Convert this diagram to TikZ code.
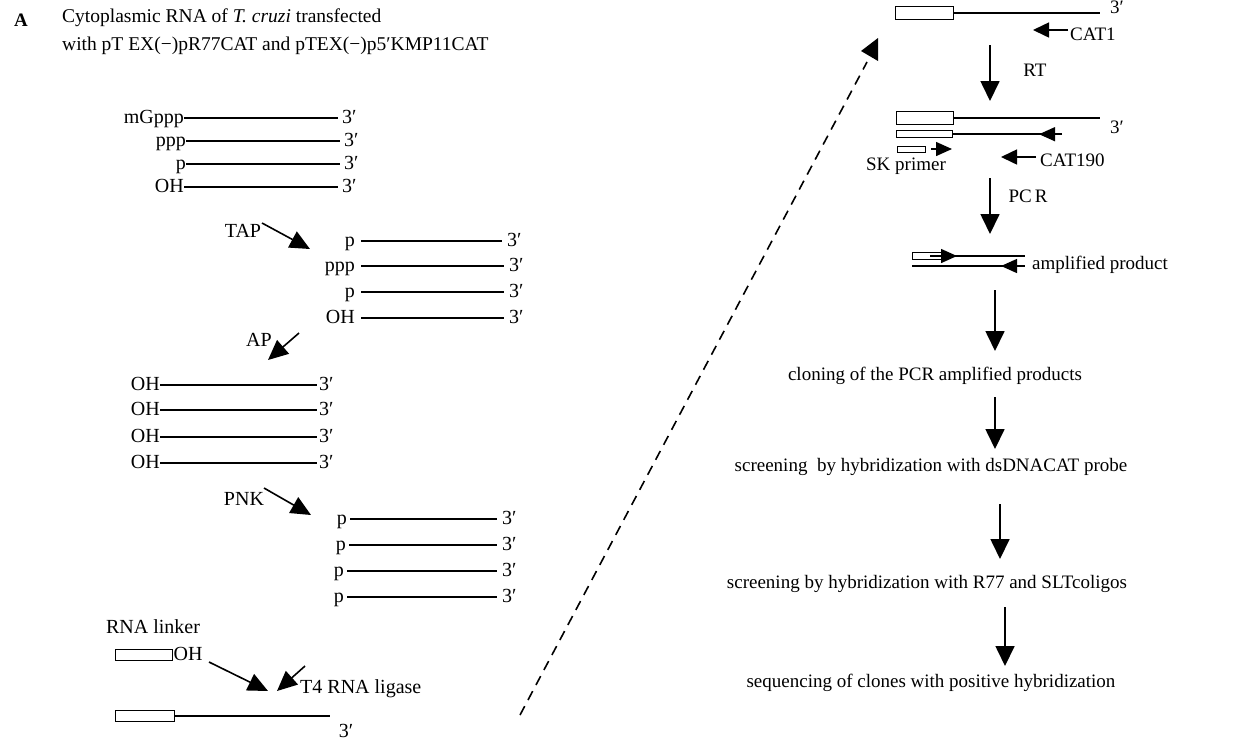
\documentclass[tikz,border=0pt]{standalone}
\usepackage{fontspec}
\setmainfont{Liberation Serif}
\usetikzlibrary{arrows.meta}
\begin{document}
\begin{tikzpicture}[x=1pt,y=-1pt,
  txt/.style={font=\fontsize{19}{23}\selectfont, inner sep=0pt, text height=13pt, text depth=4pt},
  ltxt/.style={font=\fontsize{20}{24}\selectfont, inner sep=0pt, text height=14pt, text depth=4pt},
  htxt/.style={font=\fontsize{19.5}{24}\selectfont, inner sep=0pt, text height=14pt, text depth=4pt, anchor=west},
  lbl/.style={ltxt, anchor=east},
  tp/.style={txt, anchor=west},
  ltp/.style={ltxt, anchor=west},
  strand/.style={line width=1.5pt},
  box/.style={draw, line width=1.4pt, fill=white, inner sep=0pt, anchor=north west},
  flow/.style={line width=1.7pt, -{Triangle[length=20pt,width=19pt]}},
  enz/.style={line width=1.6pt, -{Triangle[length=20pt,width=18pt]}},
  primer/.style={line width=1.6pt, -{Triangle[length=16pt,width=15pt]}},
  tip/.style={line width=1.4pt, -{Triangle[length=16pt,width=14pt]}},
]
\useasboundingbox (0,0) rectangle (1244,740);

% header
\node[ltxt, anchor=west, font=\fontsize{19}{22}\selectfont\bfseries] (hA) at (14,21) {A};
\node[htxt] (h1) at (62,17) {Cytoplasmic RNA of \textit{T. cruzi} transfected};
\node[htxt] (h2) at (62,45) {with pT EX(−)pR77CAT and pTEX(−)p5′KMP11CAT};

% block 1
\node[lbl] (a1) at (184,118) {mGppp};
\node[lbl] (a2) at (186,141) {ppp};
\node[lbl] (a3) at (186,164) {p};
\node[lbl] (a4) at (184,187) {OH};
\node[ltp] (a1e) at (342,118) {3′};
\node[ltp] (a2e) at (344,141) {3′};
\node[ltp] (a3e) at (344,164) {3′};
\node[ltp] (a4e) at (342,187) {3′};
\foreach \i in {1,...,4}{\draw[strand] (a\i.east) -- ([xshift=-4pt]a\i e.west);}

% TAP
\node[ltxt] (tap) at (243,232) {TAP};
\coordinate (tapS) at (262,223);
\coordinate (tapE) at (310,249);
\draw[enz] (tapS) -- (tapE);

% block 2
\node[lbl] (b1) at (355,241) {p};
\node[lbl] (b2) at (355,266) {ppp};
\node[lbl] (b3) at (355,292) {p};
\node[lbl] (b4) at (355,318) {OH};
\node[ltp] (b1e) at (507,241) {3′};
\node[ltp] (b2e) at (509,266) {3′};
\node[ltp] (b3e) at (509,292) {3′};
\node[ltp] (b4e) at (509,318) {3′};
\foreach \i in {1,...,4}{\draw[strand] ([xshift=6pt]b\i.east) -- ([xshift=-5pt]b\i e.west);}

% AP
\node[ltxt] (ap) at (259,341) {AP};
\coordinate (apS) at (299,333);
\coordinate (apE) at (268,360);
\draw[enz] (apS) -- (apE);

% block 3
\foreach \i/\y in {1/385,2/410,3/437,4/463}{
  \node[lbl] (c\i) at (160,\y) {OH};
  \node[ltp] (c\i e) at (319,\y) {3′};
  \draw[strand] (c\i.east) -- ([xshift=-2pt]c\i e.west);
}

% PNK
\node[ltxt] (pnk) at (244,500) {PNK};
\coordinate (pnkS) at (264,488);
\coordinate (pnkE) at (311,515);
\draw[enz] (pnkS) -- (pnkE);

% block 4
\foreach \i/\y/\x in {1/519/347,2/545/346,3/571/344,4/597/344}{
  \node[lbl] (d\i) at (\x,\y) {p};
  \node[ltp] (d\i e) at (502,\y) {3′};
  \draw[strand] ([xshift=3pt]d\i.east) -- ([xshift=-5pt]d\i e.west);
}

% RNA linker + ligation
\node[ltxt] (lnk) at (153,628) {RNA linker};
\node[box, minimum width=57pt, minimum height=11pt] (lr) at (115,649) {};
\node[ltp] (loh) at (lr.east) {OH};
\coordinate (l1S) at (209,662);
\coordinate (l1E) at (268,691);
\coordinate (l2S) at (305,666);
\coordinate (l2E) at (277,691);
\draw[enz] (l1S) -- (l1E);
\draw[enz] (l2S) -- (l2E);
\node[ltp] (t4) at (300,688) {T4 RNA ligase};

% ligated product
\node[box, minimum width=59pt, minimum height=11pt] (pr) at (115,710) {};
\coordinate (prE) at (pr.east -| 330,0);
\draw[strand] (pr.east) -- (prE);
\node[ltxt] (pr3) at (346,732) {3′};

% dashed connector
\coordinate (dS) at (520,715);
\coordinate (dE) at (867,62);
\draw[line width=1.6pt, dash pattern=on 10pt off 7pt] (dS) -- (dE);
\fill (861,51) -- (878,38) -- (878,61) -- cycle;

% right: top construct
\node[box, minimum width=58pt, minimum height=13pt] (r1) at (895,6) {};
\coordinate (r1E) at (r1.east -| 1100,0);
\draw[strand] (r1.east) -- (r1E);
\node[txt] (r13) at (1117,9) {3′};
\coordinate (cat1S) at (1068,30);
\coordinate (cat1E) at (1033,30);
\draw[primer] (cat1S) -- (cat1E);
\node[tp] (cat1) at (1070,36) {CAT1};

% RT
\coordinate (rtS) at (990,45);
\coordinate (rtE) at (990,101);
\draw[flow] (rtS) -- (rtE);
\node[txt] (rt) at (1035,72) {RT};

% second construct
\node[box, minimum width=57pt, minimum height=13pt] (s1) at (896,111) {};
\coordinate (s1E) at (s1.east -| 1100,0);
\draw[strand] (s1.east) -- (s1E);
\node[box, minimum width=56pt, minimum height=7pt] (s2) at (896,130) {};
\coordinate (s2E) at (s2.east -| 1062,0);
\coordinate (s2T) at (s2.east -| 1039,0);
\draw[strand] (s2.east) -- (s2E);
\draw[tip] (s2E) -- (s2T);
\node[txt] (s3p) at (1117,129) {3′};
\node[box, minimum width=28pt, minimum height=6pt] (s3) at (897,146) {};
\coordinate (skS) at (931,149);
\coordinate (skE) at (952,149);
\draw[tip] (skS) -- (skE);
\node[txt] (sk) at (906,166) {SK primer};
\coordinate (c190S) at (1036,157);
\coordinate (c190E) at (1001,157);
\draw[primer] (c190S) -- (c190E);
\node[tp] (c190) at (1040,162) {CAT190};

% PCR
\coordinate (pcrS) at (990,178);
\coordinate (pcrE) at (990,234);
\draw[flow] (pcrS) -- (pcrE);
\node[txt] (pcr) at (1028,198) {PC\kern3pt R};

% amplified product
\node[box, minimum width=29pt, minimum height=7pt] (ap1) at (912,252) {};
\coordinate (apT) at (957,256);
\coordinate (apTs) at (930,256);
\coordinate (apTh) at (940,256);
\coordinate (apTe) at (1025,256);
\draw[strand] (apTs) -- (apTe);
\draw[tip] (apTh) -- (apT);
\coordinate (apB1) at (912,266);
\coordinate (apB2) at (1025,266);
\coordinate (apBh) at (1021,266);
\coordinate (apBt) at (1001,266);
\draw[strand] (apB1) -- (apB2);
\draw[tip] (apBh) -- (apBt);
\node[tp] (amp) at (1032,265) {amplified product};

% flow steps
\coordinate (f1S) at (995,290);
\coordinate (f1E) at (995,351);
\draw[flow] (f1S) -- (f1E);
\node[txt] (clon) at (935,376) {cloning of the PCR amplified products};
\coordinate (f2S) at (995,397);
\coordinate (f2E) at (995,449);
\draw[flow] (f2S) -- (f2E);
\node[txt] (scr1) at (931,467) {screening\ \ by hybridization with dsDNACAT probe};
\coordinate (f3S) at (1000,504);
\coordinate (f3E) at (1000,559);
\draw[flow] (f3S) -- (f3E);
\node[txt] (scr2) at (927,584) {screening by hybridization with R77 and SLTcoligos};
\coordinate (f4S) at (1005,607);
\coordinate (f4E) at (1005,666);
\draw[flow] (f4S) -- (f4E);
\node[txt] (seq) at (931,683) {sequencing of clones with positive hybridization};
\end{tikzpicture}
\end{document}
